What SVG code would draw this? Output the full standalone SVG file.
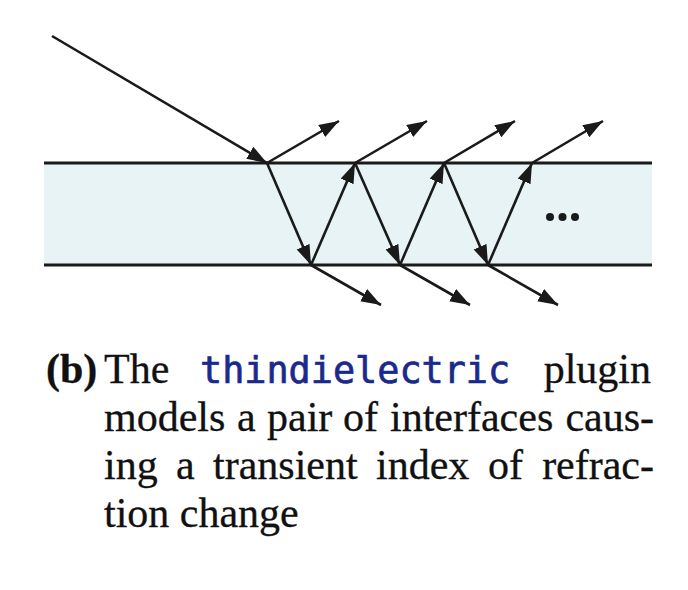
<svg xmlns="http://www.w3.org/2000/svg" width="688" height="590" viewBox="0 0 688 590">
<style>
.ray{stroke:#1a1a1a;stroke-width:2.6;fill:none;marker-end:url(#ah)}
.edge{stroke:#1a1a1a;stroke-width:3}
.cap{font-family:"Liberation Serif","Times New Roman",serif;font-size:42px;fill:#111;stroke:#111;stroke-width:0.3}
.mono{font-family:"DejaVu Sans Mono","Liberation Mono",monospace;font-size:36.8px;fill:#1a2a8c;stroke:#1a2a8c;stroke-width:0.7}
</style>
<defs>
<marker id="ah" markerUnits="userSpaceOnUse" markerWidth="22" markerHeight="16" refX="20" refY="7" orient="auto">
<path d="M0,0 L20,7 L0,14 z" fill="#1a1a1a"/>
</marker>
</defs>
<g id="slab">
<rect x="44" y="163" width="608" height="102" fill="#e7f3f5"/>
<line class="edge" x1="44" y1="163" x2="652" y2="163"/>
<line class="edge" x1="44" y1="265" x2="652" y2="265"/>
</g>
<g id="connectors">
<line class="ray" x1="52" y1="36" x2="267" y2="163"/>
<line class="ray" x1="267" y1="163" x2="339" y2="121"/>
<line class="ray" x1="355" y1="163" x2="427" y2="121"/>
<line class="ray" x1="444" y1="163" x2="515" y2="121"/>
<line class="ray" x1="532" y1="163" x2="603" y2="121"/>
<line class="ray" x1="267" y1="163" x2="311" y2="265"/>
<line class="ray" x1="355" y1="163" x2="400" y2="265"/>
<line class="ray" x1="444" y1="163" x2="488" y2="265"/>
<line class="ray" x1="311" y1="265" x2="355" y2="163"/>
<line class="ray" x1="400" y1="265" x2="444" y2="163"/>
<line class="ray" x1="488" y1="265" x2="532" y2="163"/>
<line class="ray" x1="311" y1="265" x2="381" y2="305"/>
<line class="ray" x1="400" y1="265" x2="470" y2="305"/>
<line class="ray" x1="488" y1="265" x2="558" y2="305"/>
</g>
<g id="ellipsis" fill="#1a1a1a">
<circle cx="550" cy="217" r="4"/>
<circle cx="562.5" cy="217" r="4"/>
<circle cx="575" cy="217" r="4"/>
</g>
<g id="caption" class="cap">
<text x="46" y="383" font-weight="bold">(b)</text>
<text x="104" y="383">The</text>
<text x="200" y="383" class="mono">thindielectric</text>
<text x="651" y="383" text-anchor="end">plugin</text>
<text y="431"><tspan x="104">models</tspan><tspan x="237">a</tspan><tspan x="267">pair</tspan><tspan x="343">of</tspan><tspan x="390">interfaces</tspan><tspan x="654" text-anchor="end">caus-</tspan></text>
<text y="479"><tspan x="104">ing</tspan><tspan x="176">a</tspan><tspan x="213">transient</tspan><tspan x="376">index</tspan><tspan x="488">of</tspan><tspan x="654" text-anchor="end">refrac-</tspan></text>
<text x="104" y="527">tion change</text>
</g>
</svg>
